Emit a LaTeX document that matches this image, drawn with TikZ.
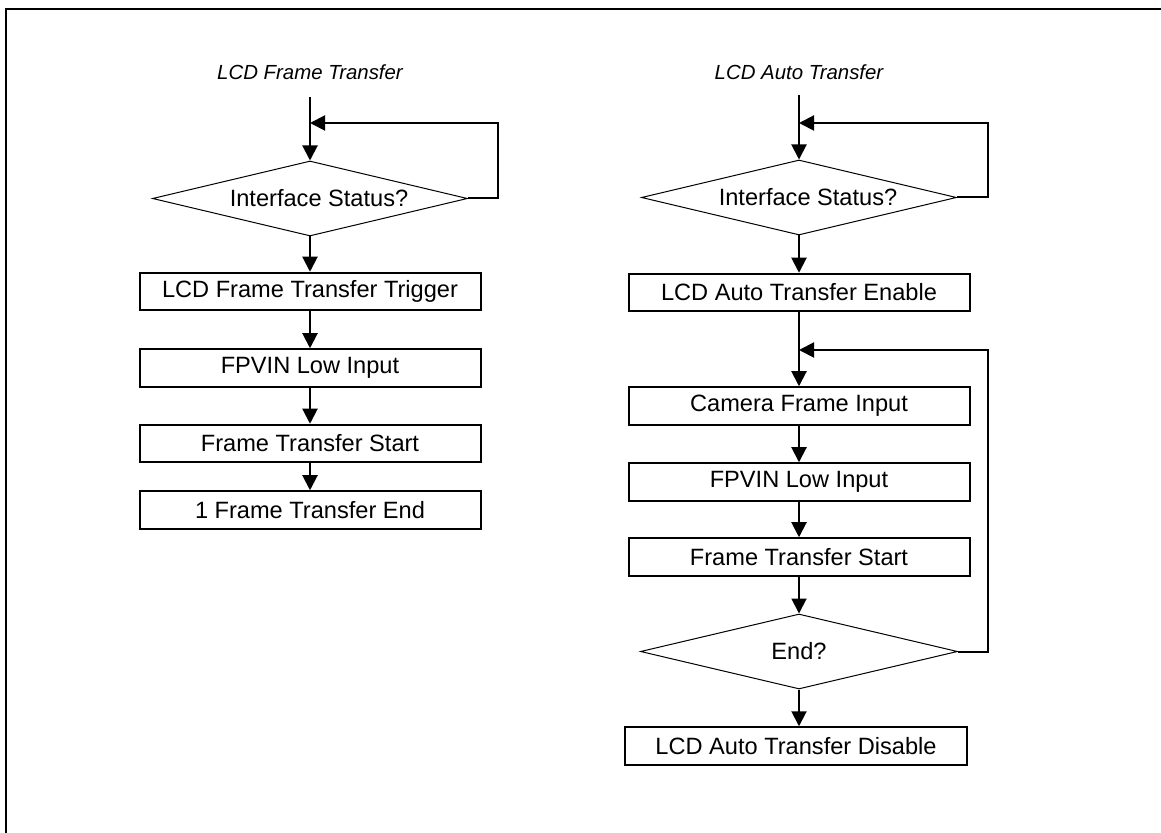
\documentclass[tikz,border=0pt]{standalone}
\usepackage{fontspec}
\setmainfont{Liberation Sans}
\usetikzlibrary{shapes.geometric,arrows.meta}
\begin{document}
\begin{tikzpicture}[x=0.5pt,y=-0.5pt,
  txt/.style={font=\fontsize{11.8}{13}\selectfont},
  box/.style={draw,line width=1pt,rectangle,minimum width=170.5pt,minimum height=18.75pt,inner sep=0pt,txt},
  dec/.style={draw,line width=0.5pt,diamond,minimum width=157.5pt,minimum height=37.5pt,inner sep=0pt},
  ttl/.style={font=\fontsize{10.2}{12}\selectfont\itshape},
  arr/.style={line width=1pt,-{Triangle[length=7.5pt,width=7.5pt]}},
  ln/.style={line width=1pt}]
\useasboundingbox (0,0) rectangle (1161,833);
\coordinate (fbl) at (6,833);
\coordinate (ftr) at (1161,9);
\draw[ln] (fbl) |- (ftr);

% Left column
\node[ttl] (tl) at (310,72) {LCD Frame Transfer};
\coordinate (Ltop) at (310,97);
\coordinate (Lloop) at (498,123);
\coordinate (Ljoin) at (310,123);
\node[dec,label={[txt,xshift=4.5pt]center:Interface Status?}] (d1) at (310,198.5) {};
\node[box] (b1) at (310,291.5) {LCD Frame Transfer Trigger};
\node[box] (b2) at (310,368) {FPVIN Low Input};
\node[box] (b3) at (310,443.5) {Frame Transfer Start};
\node[box] (b4) at (310,510) {1 Frame Transfer End};
\draw[arr] (Ltop) -- (d1.north);
\draw[arr] (d1.east) -| (Lloop) -- (Ljoin);
\draw[arr] (d1.south) -- (b1.north);
\draw[arr] (b1.south) -- (b2.north);
\draw[arr] (b2.south) -- (b3.north);
\draw[arr] (b3.south) -- (b4.north);

% Right column
\node[ttl] (tr) at (799,72) {LCD Auto Transfer};
\coordinate (Rtop) at (799,95);
\coordinate (Rloop) at (988,123);
\coordinate (Rjoin) at (799,123);
\node[dec,label={[txt,xshift=4.5pt]center:Interface Status?}] (d2) at (799,197.5) {};
\node[box] (e1) at (799,292.5) {LCD Auto Transfer Enable};
\coordinate (Rjoin2) at (799,350);
\coordinate (Rloop2) at (988,350);
\node[box] (e2) at (799,406) {Camera Frame Input};
\node[box] (e3) at (799,482) {FPVIN Low Input};
\node[box] (e4) at (799,557) {Frame Transfer Start};
\node[dec,minimum width=158.5pt,label={[txt]center:End?}] (d3) at (799,651.5) {};
\node[box,minimum width=171pt] (e5) at (796,746) {LCD Auto Transfer Disable};
\draw[arr] (Rtop) -- (d2.north);
\draw[arr] (d2.east) -| (Rloop) -- (Rjoin);
\draw[arr] (d2.south) -- (e1.north);
\draw[arr] (e1.south) -- (e2.north);
\draw[arr] (d3.east) -| (Rloop2) -- (Rjoin2);
\draw[arr] (e2.south) -- (e3.north);
\draw[arr] (e3.south) -- (e4.north);
\draw[arr] (e4.south) -- (d3.north);
\draw[arr] (d3.south) -- (d3.south |- e5.north);
\end{tikzpicture}
\end{document}
